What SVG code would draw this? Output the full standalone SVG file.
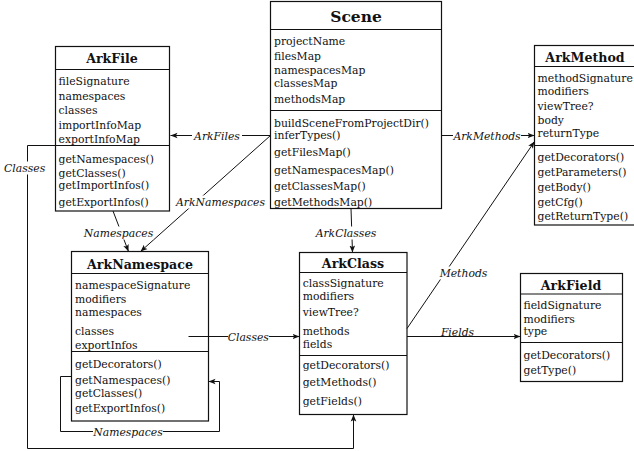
<svg xmlns="http://www.w3.org/2000/svg" width="634" height="451" viewBox="0 0 634 451">
  <defs>
    <style>
      .box { fill: #ffffff; stroke: #111111; stroke-width: 1.2; }
      .sep { stroke: #111111; stroke-width: 1.2; fill: none; }
      .t { font-family: "DejaVu Serif", "Liberation Serif", serif; font-size: 10.8px; fill: #111111; }
      .title { font-family: "DejaVu Serif", "Liberation Serif", serif; font-size: 12.6px; font-weight: bold; fill: #111111; text-anchor: middle; }
      .big { font-size: 15.5px; }
      .edge { fill: none; stroke: #111111; stroke-width: 1; }
      .lbl { font-family: "DejaVu Serif", "Liberation Serif", serif; font-size: 10.8px; font-style: italic; fill: #111111; text-anchor: middle; }
      .lblbg { fill: #ffffff; stroke: none; }
    </style>
    <marker id="arrow" markerUnits="userSpaceOnUse" markerWidth="8" markerHeight="8" viewBox="0 0 8 8" refX="7" refY="4" orient="auto">
      <path d="M0,1.2 L7,4 L0,6.8 L1.6,4 Z" fill="#111111"/>
    </marker>
  </defs>

  <!-- Scene -->
  <g id="scene">
    <rect class="box" x="270.5" y="1.5" width="171" height="207"/>
    <line class="sep" x1="270.5" y1="29.5" x2="441.5" y2="29.5"/>
    <line class="sep" x1="270.5" y1="110.5" x2="441.5" y2="110.5"/>
    <text class="title big" x="356" y="21.5">Scene</text>
    <text class="t" x="274" y="45">projectName</text>
    <text class="t" x="274" y="59.5">filesMap</text>
    <text class="t" x="274" y="73.5">namespacesMap</text>
    <text class="t" x="274" y="86.5">classesMap</text>
    <text class="t" x="274" y="102.7">methodsMap</text>
    <text class="t" x="274" y="126.5">buildSceneFromProjectDir()</text>
    <text class="t" x="274" y="138.5">inferTypes()</text>
    <text class="t" x="274" y="156">getFilesMap()</text>
    <text class="t" x="274" y="174">getNamespacesMap()</text>
    <text class="t" x="274" y="190">getClassesMap()</text>
    <text class="t" x="274" y="206">getMethodsMap()</text>
  </g>

  <!-- ArkFile -->
  <g id="arkfile">
    <rect class="box" x="55.5" y="46.5" width="114" height="164.5"/>
    <line class="sep" x1="55.5" y1="69.5" x2="169.5" y2="69.5"/>
    <line class="sep" x1="55.5" y1="145.5" x2="169.5" y2="145.5"/>
    <text class="title" x="112" y="63">ArkFile</text>
    <text class="t" x="58.5" y="85">fileSignature</text>
    <text class="t" x="58.5" y="100">namespaces</text>
    <text class="t" x="58.5" y="114">classes</text>
    <text class="t" x="58.5" y="128.5">importInfoMap</text>
    <text class="t" x="58.5" y="142.5">exportInfoMap</text>
    <text class="t" x="58.5" y="163.3">getNamespaces()</text>
    <text class="t" x="58.5" y="176.7">getClasses()</text>
    <text class="t" x="58.5" y="189.3">getImportInfos()</text>
    <text class="t" x="58.5" y="206">getExportInfos()</text>
  </g>

  <!-- ArkMethod -->
  <g id="arkmethod">
    <rect class="box" x="534.5" y="45.5" width="102" height="179.5"/>
    <line class="sep" x1="534.5" y1="66.5" x2="636.5" y2="66.5"/>
    <line class="sep" x1="534.5" y1="145.5" x2="636.5" y2="145.5"/>
    <text class="title" x="585" y="62">ArkMethod</text>
    <text class="t" x="537.5" y="82">methodSignature</text>
    <text class="t" x="537.5" y="95">modifiers</text>
    <text class="t" x="537.5" y="110">viewTree?</text>
    <text class="t" x="537.5" y="124">body</text>
    <text class="t" x="537.5" y="136.5">returnType</text>
    <text class="t" x="537.5" y="161">getDecorators()</text>
    <text class="t" x="537.5" y="176">getParameters()</text>
    <text class="t" x="537.5" y="191">getBody()</text>
    <text class="t" x="537.5" y="205.5">getCfg()</text>
    <text class="t" x="537.5" y="219.5">getReturnType()</text>
  </g>

  <!-- ArkNamespace -->
  <g id="arknamespace">
    <rect class="box" x="71.5" y="251.5" width="137" height="169.5"/>
    <line class="sep" x1="71.5" y1="273.5" x2="208.5" y2="273.5"/>
    <line class="sep" x1="71.5" y1="351.5" x2="208.5" y2="351.5"/>
    <text class="title" x="140" y="269">ArkNamespace</text>
    <text class="t" x="75" y="289.3">namespaceSignature</text>
    <text class="t" x="75" y="303.3">modifiers</text>
    <text class="t" x="75" y="315.5">namespaces</text>
    <text class="t" x="75" y="335">classes</text>
    <text class="t" x="75" y="349">exportInfos</text>
    <text class="t" x="75" y="367.7">getDecorators()</text>
    <text class="t" x="75" y="384.3">getNamespaces()</text>
    <text class="t" x="75" y="397.3">getClasses()</text>
    <text class="t" x="75" y="412.3">getExportInfos()</text>
  </g>

  <!-- ArkClass -->
  <g id="arkclass">
    <rect class="box" x="299.5" y="252.5" width="107.5" height="162"/>
    <line class="sep" x1="299.5" y1="272.5" x2="407" y2="272.5"/>
    <line class="sep" x1="299.5" y1="355.5" x2="407" y2="355.5"/>
    <text class="title" x="353" y="268">ArkClass</text>
    <text class="t" x="302.7" y="287.3">classSignature</text>
    <text class="t" x="302.7" y="299.5">modifiers</text>
    <text class="t" x="302.7" y="316">viewTree?</text>
    <text class="t" x="302.7" y="335.3">methods</text>
    <text class="t" x="302.7" y="347.5">fields</text>
    <text class="t" x="302.7" y="368.7">getDecorators()</text>
    <text class="t" x="302.7" y="385.7">getMethods()</text>
    <text class="t" x="302.7" y="404.7">getFields()</text>
  </g>

  <!-- ArkField -->
  <g id="arkfield">
    <rect class="box" x="520.5" y="273.5" width="102" height="108"/>
    <line class="sep" x1="520.5" y1="294" x2="622.5" y2="294"/>
    <line class="sep" x1="520.5" y1="342.5" x2="622.5" y2="342.5"/>
    <text class="title" x="571" y="290">ArkField</text>
    <text class="t" x="523.5" y="309.3">fieldSignature</text>
    <text class="t" x="523.5" y="322.7">modifiers</text>
    <text class="t" x="523.5" y="335">type</text>
    <text class="t" x="523.5" y="359.3">getDecorators()</text>
    <text class="t" x="523.5" y="374.3">getType()</text>
  </g>

  <!-- Connectors with their labels -->
  <g id="connectors">
    <path class="edge" d="M270.5,135.5 H170.5" marker-end="url(#arrow)"/>
    <path class="edge" d="M270.5,135.5 L140.5,251.5" marker-end="url(#arrow)"/>
    <path class="edge" d="M441.5,135.5 H534.5" marker-end="url(#arrow)"/>
    <path class="edge" d="M351,208.5 L352.5,252.5" marker-end="url(#arrow)"/>
    <path class="edge" d="M113,211 L128.5,251.5" marker-end="url(#arrow)"/>
    <path class="edge" d="M55.5,145.5 H27.5 V448.5 H353.5 V414.5" marker-end="url(#arrow)"/>
    <path class="edge" d="M71.5,376.5 H60.5 V431.5 H219.5 V381.5 H208.5" marker-end="url(#arrow)"/>
    <path class="edge" d="M188.5,336.5 H299.5" marker-end="url(#arrow)"/>
    <path class="edge" d="M407,328.5 L534.5,141.5" marker-end="url(#arrow)"/>
    <path class="edge" d="M407,336.5 H520.5" marker-end="url(#arrow)"/>

    <rect class="lblbg" x="192" y="129" width="50" height="13"/>
    <text class="lbl" x="217" y="139.5">ArkFiles</text>

    <rect class="lblbg" x="175" y="195.5" width="91" height="13"/>
    <text class="lbl" x="220.5" y="206">ArkNamespaces</text>

    <rect class="lblbg" x="453" y="129" width="68" height="13"/>
    <text class="lbl" x="487" y="139.5">ArkMethods</text>

    <rect class="lblbg" x="315" y="226.5" width="62" height="13"/>
    <text class="lbl" x="346" y="237">ArkClasses</text>

    <rect class="lblbg" x="83.5" y="226.5" width="70" height="13"/>
    <text class="lbl" x="118.5" y="237">Namespaces</text>

    <rect class="lblbg" x="4" y="161.5" width="41" height="13"/>
    <text class="lbl" x="24.7" y="172">Classes</text>

    <rect class="lblbg" x="93" y="425" width="70" height="13"/>
    <text class="lbl" x="128" y="435.5">Namespaces</text>

    <rect class="lblbg" x="228" y="330" width="41" height="13"/>
    <text class="lbl" x="248.3" y="340.5">Classes</text>

    <rect class="lblbg" x="440" y="266.5" width="47" height="13"/>
    <text class="lbl" x="463.5" y="277">Methods</text>

    <rect class="lblbg" x="441.5" y="325" width="32" height="11"/>
    <text class="lbl" x="457.5" y="335.5">Fields</text>
  </g>
</svg>
